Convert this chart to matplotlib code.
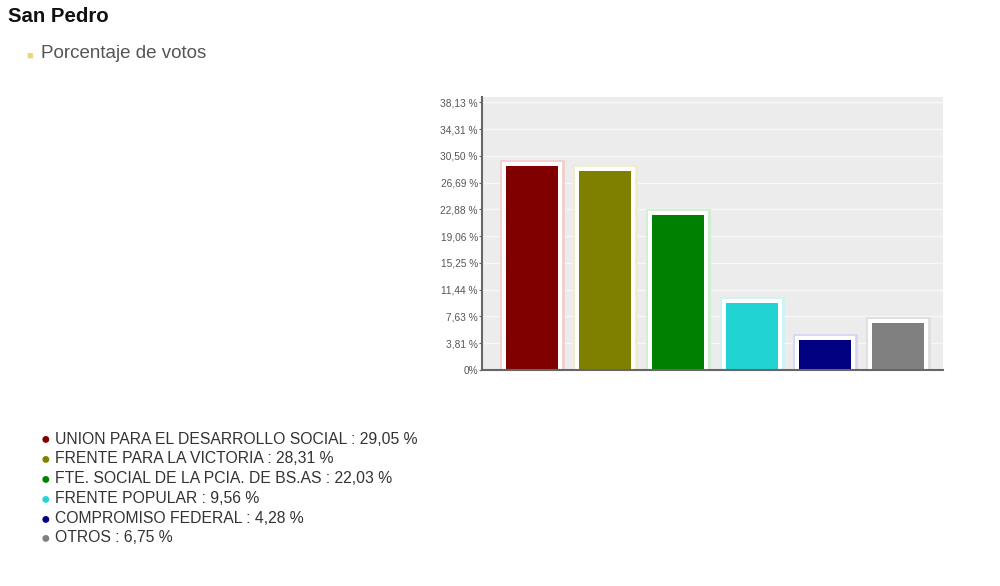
import matplotlib
matplotlib.use("Agg")
import matplotlib.pyplot as plt
import matplotlib.patheffects as pe

plt.rcParams['font.family'] = ['Liberation Sans', 'DejaVu Sans']

title = "San Pedro"
subtitle = "Porcentaje de votos"
parties = ["UNION PARA EL DESARROLLO SOCIAL", "FRENTE PARA LA VICTORIA",
           "FTE. SOCIAL DE LA PCIA. DE BS.AS", "FRENTE POPULAR",
           "COMPROMISO FEDERAL", "OTROS"]
values = [29.05, 28.31, 22.03, 9.56, 4.28, 6.75]
value_labels = ["29,05", "28,31", "22,03", "9,56", "4,28", "6,75"]
colors = ["#800000", "#808000", "#008000", "#22d3d3", "#000080", "#808080"]
halo = ["#f3c9c9", "#eeeec4", "#c9efc9", "#c9f3f3", "#d3d3f0", "#dcdcdc"]
ytick_vals = [0, 3.81, 7.63, 11.44, 15.25, 19.06, 22.88, 26.69, 30.50, 34.31, 38.13]
ytick_labels = ["0%", "3,81 %", "7,63 %", "11,44 %", "15,25 %", "19,06 %",
                "22,88 %", "26,69 %", "30,50 %", "34,31 %", "38,13 %"]

fig = plt.figure(figsize=(10, 5.86), dpi=100)
fig.patch.set_facecolor("white")

# chart axes (pixel bounds: x 482-943, y 97-370)
W, H = 1000, 586
ax = fig.add_axes([482 / W, 1 - 370 / H, (943 - 482) / W, (370 - 97) / H])
ax.set_facecolor("#ececec")
x = list(range(len(values)))
bars = ax.bar(x, values, width=0.71, color=colors, zorder=2, linewidth=0)
for b, h in zip(bars, halo):
    b.set_path_effects([pe.Stroke(linewidth=9, foreground=h),
                        pe.Stroke(linewidth=6, foreground="white"),
                        pe.Normal()])
ax.set_xlim(-0.68, 5.61)
ax.set_ylim(0, 38.9)
ax.set_yticks(ytick_vals)
ax.set_yticklabels(ytick_labels, fontsize=7.3, color="#555555")
ax.set_xticks([])
for yv in ytick_vals[1:]:
    ax.axhline(yv, color="#f8f8f8", linewidth=1.0, zorder=1)
for s in ["top", "right"]:
    ax.spines[s].set_visible(False)
for s in ["left", "bottom"]:
    ax.spines[s].set_color("#666666")
    ax.spines[s].set_linewidth(1.5)
    ax.spines[s].set_zorder(3)
ax.tick_params(axis="y", length=2, width=0.8, color="#666666", pad=1)

# title and subtitle
fig.text(8 / W, 1 - 16 / H, title, fontsize=14.7, fontweight="bold",
         color="#111111", va="center", ha="left")
fig.text(26 / W, 1 - 56 / H, "\u25a0", fontsize=8, color="#ead77a",
         va="center", ha="left")
fig.text(41 / W, 1 - 54 / H, subtitle, fontsize=13.5, color="#555555",
         va="center", ha="left")

# legend
for i, (p, v, c) in enumerate(zip(parties, value_labels, colors)):
    yy = 1 - (439 + i * 19.8) / H
    fig.text(45 / W, yy, "\u25cf", fontsize=11.5, color=c, va="center", ha="center")
    fig.text(55 / W, yy, f"{p} : {v} %", fontsize=11.35, color="#333333",
             va="center", ha="left")

fig.savefig("out.png", dpi=100, facecolor="white")
